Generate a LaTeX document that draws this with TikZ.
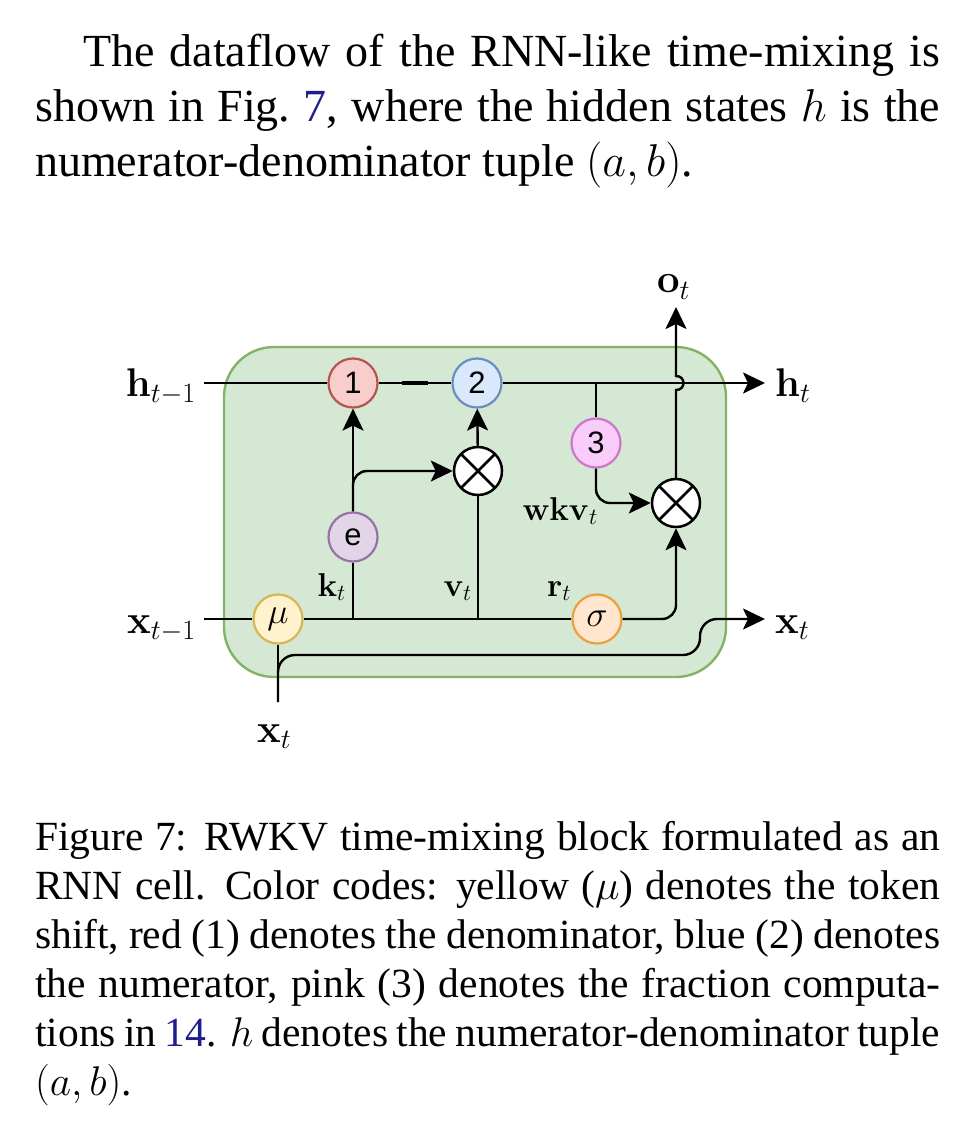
\documentclass[tikz,border=0pt]{standalone}
\usepackage{fix-cm}
\usepackage[no-math]{fontspec}
\setmainfont{Liberation Serif}
\newfontfamily\drawiofont{Liberation Sans}
\usetikzlibrary{arrows.meta}
\definecolor{cellfill}{HTML}{D5E8D4}
\definecolor{cellline}{HTML}{82B366}
\definecolor{redfill}{HTML}{F8CECC}
\definecolor{redline}{HTML}{B85450}
\definecolor{bluefill}{HTML}{DAE8FC}
\definecolor{blueline}{HTML}{6C8EBF}
\definecolor{pinkfill}{HTML}{FACCFA}
\definecolor{pinkline}{HTML}{CC77CC}
\definecolor{purplefill}{HTML}{E1D5E7}
\definecolor{purpleline}{HTML}{9673A6}
\definecolor{yellowfill}{HTML}{FFF2CC}
\definecolor{yellowline}{HTML}{D6B656}
\definecolor{orangefill}{HTML}{FFE6CC}
\definecolor{orangeline}{HTML}{E8A040}
\definecolor{linkblue}{RGB}{30,30,140}

\begin{document}
\begin{tikzpicture}[x=1pt, y=-1pt, >={Stealth[length=22pt,width=21pt,inset=5pt]},
    flow/.style={line width=2.4pt},
    cellbox/.style={draw=cellline, fill=cellfill, line width=2.4pt, rounded corners=50pt,
        minimum width=502pt, minimum height=330pt},
    gate/.style={circle, minimum size=49pt, inner sep=0pt, line width=2.2pt,
        font=\drawiofont\fontsize{31}{31}\selectfont},
    mult/.style={circle, minimum size=48pt, inner sep=0pt, draw=black, fill=white, line width=2.5pt,
        path picture={\draw[line width=2.5pt]
            (path picture bounding box.north west) -- (path picture bounding box.south east)
            (path picture bounding box.north east) -- (path picture bounding box.south west);}},
    io/.style={inner sep=0pt, font=\fontsize{40}{40}\selectfont},
    lbl/.style={inner sep=0pt, font=\fontsize{33}{33}\selectfont},
    txt/.style={inner sep=0pt, font=\fontsize{46}{55}\selectfont},
    captxt/.style={inner sep=0pt, font=\fontsize{41.5}{49}\selectfont}]

    \fill[white] (0,0) rectangle (978,1131);
    \useasboundingbox (0,0) rectangle (978,1131);

    % texto acima da figura
    \node[txt, anchor=base west] (par1) at (83,67) {\makebox[857pt][s]{The dataflow of the RNN-like time-mixing is}};
    \node[txt, anchor=base west] (par2) at (35,122) {\makebox[905pt][s]{shown in Fig.\ \textcolor{linkblue}{7}, where the hidden states $h$ is the}};
    \node[txt, anchor=base west] (par3) at (35,177) {numerator-denominator tuple $(a,b)$.};

    % celula
    \node[cellbox] (cell) at (475,512) {};

    % portas
    \node[gate, fill=redfill, draw=redline] (den) at (353,383) {1};
    \node[gate, fill=bluefill, draw=blueline] (num) at (477,383) {2};
    \node[gate, fill=pinkfill, draw=pinkline] (frac) at (596,443) {3};
    \node[gate, fill=purplefill, draw=purpleline] (expk) at (353,537) {e};
    \node[gate, fill=yellowfill, draw=yellowline, font=\fontsize{36}{36}\selectfont] (shift) at (278,619) {$\mu$};
    \node[gate, fill=orangefill, draw=orangeline, font=\fontsize{36}{36}\selectfont] (sig) at (597,619) {$\sigma$};
    \node[mult] (mulkv) at (478,471) {};
    \node[mult] (mulr) at (676,503) {};

    % entradas e saidas
    \coordinate (hin) at (204,383);
    \coordinate (hout) at (765,383);
    \coordinate (xin) at (204,619);
    \coordinate (xout) at (765,619);
    \coordinate (xcur) at (278,702);
    \coordinate (oout) at (676,307);

    % estado oculto
    \draw[flow] (hin) -- (den);
    \draw[flow] (den) -- (num);
    \draw[line width=3.6pt] (402,383) -- (428,383);
    \draw[flow, ->] (num) -- (hout);
    \draw[flow] (frac) -- (frac |- hout);

    % token shift
    \draw[flow] (xin) -- (shift);
    \draw[flow] (shift) -- (sig);
    \draw[flow] (xcur) -- (shift);
    \draw[flow, ->, rounded corners=17pt] (xcur) -- (278,655) -- (700,655) -- (700,619) -- (xout);

    % k e v
    \draw[flow, ->] (expk) -- (den);
    \draw[flow] (expk) -- (expk |- shift);
    \draw[flow, ->, rounded corners=14pt] (expk.north) |- (mulkv);
    \draw[flow, ->] (mulkv) -- (num);
    \draw[flow] (mulkv) -- (mulkv |- shift);

    % saida
    \draw[flow, ->, rounded corners=14pt] (frac) |- (mulr);
    \draw[flow, ->, rounded corners=14pt] (sig) -| (mulr);
    \draw[flow, ->] (mulr.north) -- (676,390) .. controls (686,390) and (686,376) .. (676,376) -- (oout);

    % rotulos
    \node[io, anchor=base east] (hprev) at (196,396) {$\mathbf{h}_{t-1}$};
    \node[io, anchor=base west] (hnext) at (775,396) {$\mathbf{h}_t$};
    \node[io, anchor=base west] (olbl) at (657,293) {$\mathbf{o}_t$};
    \node[io, anchor=base east] (xprev) at (196,633) {$\mathbf{x}_{t-1}$};
    \node[io, anchor=base west] (xnext) at (775,633) {$\mathbf{x}_t$};
    \node[io, anchor=base west] (xnow) at (257,742) {$\mathbf{x}_t$};
    \node[lbl, anchor=base east] (klbl) at (346,596) {$\mathbf{k}_t$};
    \node[lbl, anchor=base east] (vlbl) at (472,596) {$\mathbf{v}_t$};
    \node[lbl, anchor=base west] (rlbl) at (547,596) {$\mathbf{r}_t$};
    \node[lbl, anchor=base east] (wkvlbl) at (598,520) {$\mathbf{wkv}_t$};

    % legenda
    \node[captxt, anchor=base west] (cap1) at (35,850) {\makebox[905pt][s]{Figure 7: RWKV time-mixing block formulated as an}};
    \node[captxt, anchor=base west] (cap2) at (35,899) {\makebox[905pt][s]{RNN cell. Color codes: yellow ($\mu$) denotes the token}};
    \node[captxt, anchor=base west] (cap3) at (35,948) {\makebox[905pt][s]{shift, red (1) denotes the denominator, blue (2) denotes}};
    \node[captxt, anchor=base west] (cap4) at (35,997) {\makebox[905pt][s]{the numerator, pink (3) denotes the fraction computa-}};
    \node[captxt, anchor=base west] (cap5) at (35,1046) {\makebox[905pt][s]{tions in \textcolor{linkblue}{14}. $h$ denotes the numerator-denominator tuple}};
    \node[captxt, anchor=base west] (cap6) at (35,1095) {$(a,b)$.};

\end{tikzpicture}
\end{document}
